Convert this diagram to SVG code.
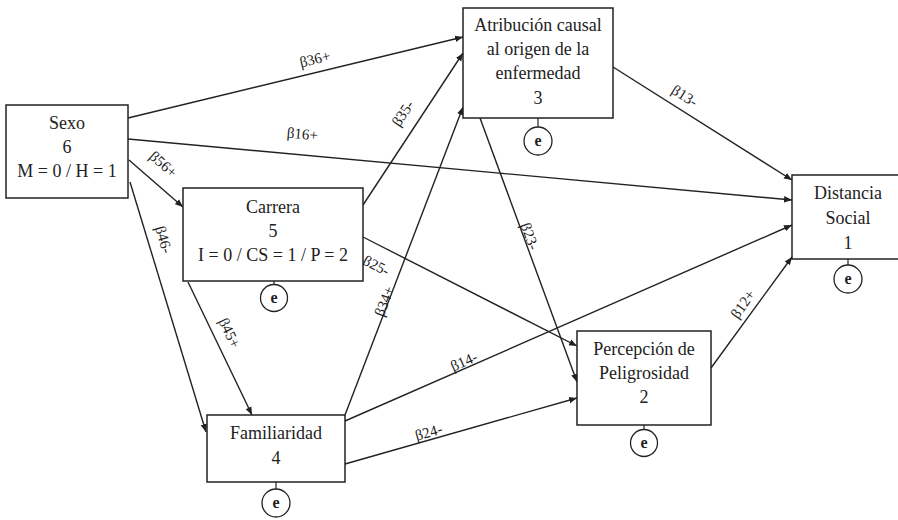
<svg xmlns="http://www.w3.org/2000/svg" width="898" height="520" viewBox="0 0 898 520">
  <style>
    .box { fill: #ffffff; stroke: #222; stroke-width: 1.5; }
    .err { fill: #ffffff; stroke: #222; stroke-width: 1.3; }
    .stem { stroke: #222; stroke-width: 1.2; }
    .t { font-family: "Liberation Serif", "Times New Roman", serif; font-size: 18px; fill: #222; text-anchor: middle; }
    .e { font-family: "Liberation Serif", "Times New Roman", serif; font-size: 16px; font-weight: bold; fill: #222; text-anchor: middle; }
    .edge { stroke: #222; stroke-width: 1.4; fill: none; marker-end: url(#arrow); }
    .lbl { font-family: "Liberation Serif", "Times New Roman", serif; font-size: 15px; fill: #222; text-anchor: middle; }
  </style>
  <defs>
    <marker id="arrow" viewBox="0 0 10 10" refX="10" refY="5" markerWidth="8" markerHeight="8" orient="auto" markerUnits="userSpaceOnUse">
      <path d="M0,1 L10,5 L0,9 z" fill="#222"/>
    </marker>
  </defs>
  <rect width="898" height="520" fill="#ffffff"/>

  <!-- paths between the variables -->
  <g id="connectors">
    <line class="edge" x1="128" y1="118" x2="463" y2="37"/>
    <line class="edge" x1="128" y1="139" x2="792" y2="200"/>
    <line class="edge" x1="129" y1="160" x2="183" y2="207"/>
    <line class="edge" x1="130" y1="182" x2="206" y2="432"/>
    <line class="edge" x1="188" y1="282" x2="252" y2="415"/>
    <line class="edge" x1="363" y1="205" x2="463" y2="53"/>
    <line class="edge" x1="363" y1="237" x2="577" y2="346"/>
    <line class="edge" x1="480" y1="118" x2="577" y2="382"/>
    <line class="edge" x1="613" y1="67" x2="792" y2="180"/>
    <line class="edge" x1="345" y1="415" x2="463" y2="107"/>
    <line class="edge" x1="345" y1="421" x2="792" y2="225"/>
    <line class="edge" x1="345" y1="464" x2="577" y2="398"/>
    <line class="edge" x1="711" y1="368" x2="792" y2="257"/>

    <text class="lbl" transform="translate(316,64) rotate(-13.4)">β36+</text>
    <text class="lbl" transform="translate(302,139) rotate(5.2)">β16+</text>
    <text class="lbl" transform="translate(160,168) rotate(41)">β56+</text>
    <text class="lbl" transform="translate(159,241) rotate(73.5)">β46-</text>
    <text class="lbl" transform="translate(225,335) rotate(64.5)">β45+</text>
    <text class="lbl" transform="translate(407,116) rotate(-56.7)">β35-</text>
    <text class="lbl" transform="translate(374,270) rotate(27)">β25-</text>
    <text class="lbl" transform="translate(525,238) rotate(70)">β23-</text>
    <text class="lbl" transform="translate(682,100) rotate(32)">β13-</text>
    <text class="lbl" transform="translate(389,303) rotate(-69)">β34+</text>
    <text class="lbl" transform="translate(466,366) rotate(-23.7)">β14-</text>
    <text class="lbl" transform="translate(430,437) rotate(-16)">β24-</text>
    <text class="lbl" transform="translate(747,307) rotate(-54.5)">β12+</text>
  </g>

  <g id="sexo">
    <rect class="box" x="6" y="105" width="122" height="93"/>
    <text class="t" x="67" y="129">Sexo</text>
    <text class="t" x="67" y="153">6</text>
    <text class="t" x="67" y="177">M = 0 / H = 1</text>
  </g>

  <g id="carrera">
    <rect class="box" x="183" y="188" width="180" height="93"/>
    <text class="t" x="273" y="213">Carrera</text>
    <text class="t" x="273" y="237">5</text>
    <text class="t" x="273" y="261">I = 0 / CS = 1 / P = 2</text>
    <line class="stem" x1="274" y1="281" x2="274" y2="285"/>
    <circle class="err" cx="274" cy="298" r="13.5"/>
    <text class="e" x="274" y="303">e</text>
  </g>

  <g id="atribucion">
    <rect class="box" x="463" y="8" width="150" height="110"/>
    <text class="t" x="538" y="31">Atribución causal</text>
    <text class="t" x="538" y="55">al origen de la</text>
    <text class="t" x="538" y="79">enfermedad</text>
    <text class="t" x="538" y="104">3</text>
    <line class="stem" x1="538" y1="118" x2="538" y2="127"/>
    <circle class="err" cx="538" cy="141" r="14"/>
    <text class="e" x="538" y="146">e</text>
  </g>

  <g id="distancia">
    <rect class="box" x="792" y="175" width="112" height="84"/>
    <text class="t" x="848" y="199">Distancia</text>
    <text class="t" x="848" y="224">Social</text>
    <text class="t" x="848" y="249">1</text>
    <line class="stem" x1="848" y1="259" x2="848" y2="265"/>
    <circle class="err" cx="848" cy="279" r="14"/>
    <text class="e" x="848" y="284">e</text>
  </g>

  <g id="percepcion">
    <rect class="box" x="577" y="331" width="134" height="94"/>
    <text class="t" x="644" y="355">Percepción de</text>
    <text class="t" x="644" y="379">Peligrosidad</text>
    <text class="t" x="644" y="403">2</text>
    <line class="stem" x1="644" y1="425" x2="644" y2="430"/>
    <circle class="err" cx="644" cy="443" r="13.5"/>
    <text class="e" x="644" y="448">e</text>
  </g>

  <g id="familiaridad">
    <rect class="box" x="207" y="415" width="138" height="67"/>
    <text class="t" x="276" y="439">Familiaridad</text>
    <text class="t" x="276" y="464">4</text>
    <line class="stem" x1="276" y1="482" x2="276" y2="489"/>
    <circle class="err" cx="276" cy="503" r="14"/>
    <text class="e" x="276" y="508">e</text>
  </g>
</svg>
